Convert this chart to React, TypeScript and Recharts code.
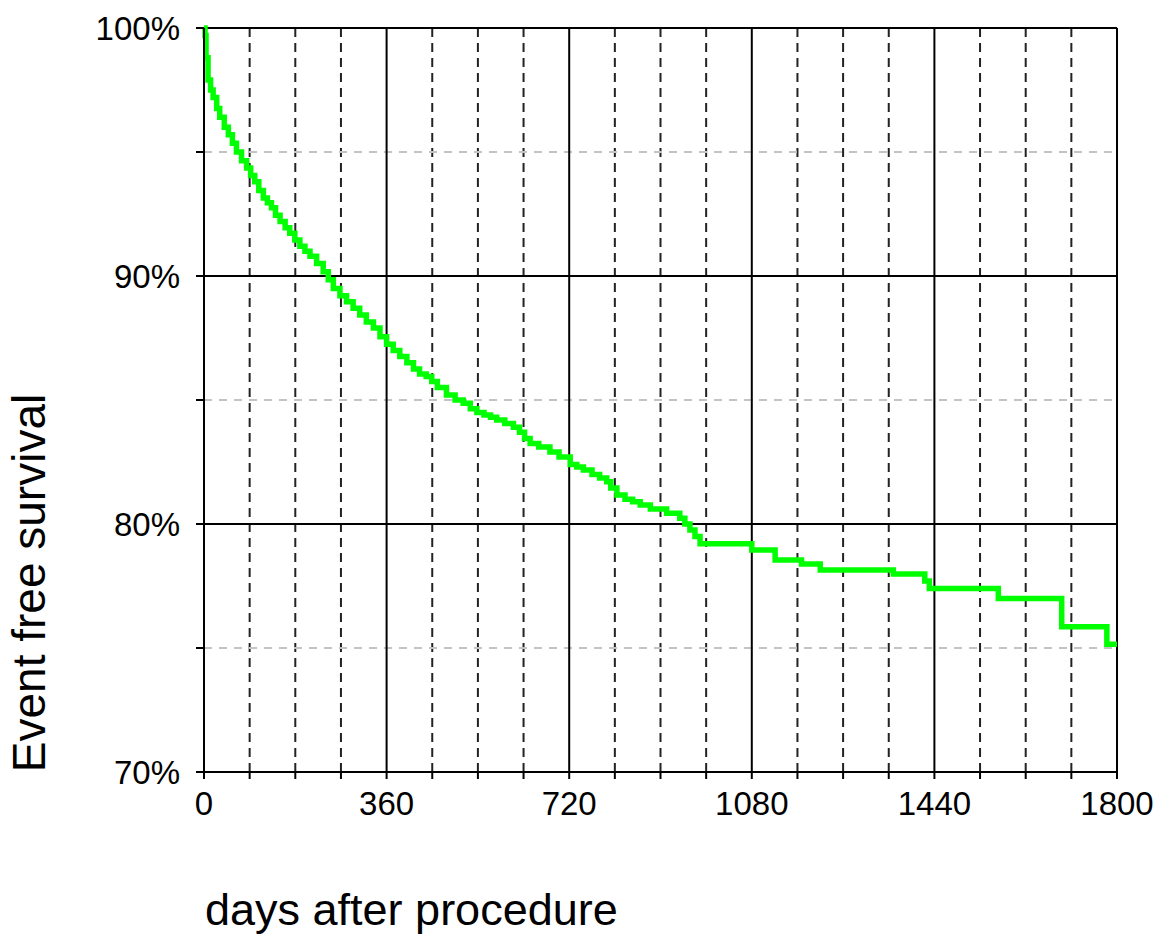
import { LineChart, Line, XAxis, YAxis, ReferenceLine } from "recharts";

// Kaplan-Meier style estimate
const days = [
  0, 2, 4, 8, 13, 18, 25, 31, 40, 48, 56, 64, 74, 84, 92, 100, 108, 117, 125,
  133, 141, 150, 160, 169, 179, 189, 199, 209, 222, 235, 245, 255, 268, 281,
  294, 307, 320, 334, 347, 360, 373, 386, 400, 413, 425, 438, 449, 460, 478,
  495, 511, 525, 538, 552, 565, 577, 593, 610, 622, 632, 643, 660, 682, 700,
  722, 735, 748, 765, 780, 794, 802, 814, 830, 845, 860, 880, 912, 938, 948,
  958, 968, 978, 1080, 1126, 1178, 1215, 1359, 1421, 1430, 1566, 1691, 1780,
  1800,
];
const survival = [
  100, 99.7, 98.8, 97.9, 97.5, 97.2, 96.75, 96.4, 96.0, 95.7, 95.35, 95.0,
  94.65, 94.35, 94.05, 93.8, 93.45, 93.15, 92.95, 92.75, 92.45, 92.2, 91.95,
  91.72, 91.45, 91.2, 91.0, 90.8, 90.5, 90.17, 89.85, 89.5, 89.2, 88.96, 88.7,
  88.43, 88.15, 87.9, 87.55, 87.25, 87.0, 86.75, 86.5, 86.25, 86.05, 85.95,
  85.75, 85.5, 85.2, 85.0, 84.87, 84.65, 84.5, 84.4, 84.3, 84.19, 84.05, 83.9,
  83.7, 83.45, 83.25, 83.1, 82.9, 82.7, 82.4, 82.3, 82.18, 82.0, 81.85, 81.7,
  81.45, 81.17, 81.0, 80.9, 80.77, 80.6, 80.43, 80.23, 80.0, 79.76, 79.5, 79.2,
  78.95, 78.55, 78.39, 78.15, 77.98, 77.7, 77.4, 77.0, 75.86, 75.15, 75.15,
];

const xTicks = [0, 90, 180, 270, 360, 450, 540, 630, 720, 810, 900, 990, 1080, 1170, 1260, 1350, 1440, 1530, 1620, 1710, 1800];
const xMajor = [360, 720, 1080, 1440, 1800];
const yTicks = [70, 75, 80, 85, 90, 95, 100];
const yMajor = [80, 90, 100];
const yMinor = [75, 85, 95];

const data = days.map((d, i) => ({ day: d, surv: survival[i] }));

const font = "'Liberation Sans', Arial, sans-serif";

const XTitle = ({ viewBox }: any) => (
  <text x={viewBox.x + 1} y={viewBox.y + 153} fontSize={45} fontFamily={font} fill="#000">
    days after procedure
  </text>
);

const YTitle = ({ viewBox }: any) => {
  const cx = 45;
  const cy = viewBox.y + viewBox.height - 189;
  return (
    <text x={cx} y={cy} transform={`rotate(-90, ${cx}, ${cy})`} textAnchor="middle" fontSize={46} fontFamily={font} fill="#000">
      Event free survival
    </text>
  );
};

export default function App() {
  return (
    <div style={{ position: "absolute", left: 0, top: 0, background: "#fff" }}>
      <LineChart width={1159} height={938} data={data} margin={{ top: 28, right: 42, left: 0, bottom: 0 }}>
        {xTicks.filter((t) => !xMajor.includes(t) && t !== 0).map((t) => (
          <ReferenceLine key={"xd" + t} x={t} stroke="#222" strokeWidth={2} strokeDasharray="9 6" />
        ))}
        {yMinor.map((t) => (
          <ReferenceLine key={"yd" + t} y={t} stroke="#c4c4c4" strokeWidth={2} strokeDasharray="8 7" />
        ))}
        {xMajor.map((t) => (
          <ReferenceLine key={"xs" + t} x={t} stroke="#000" strokeWidth={2} />
        ))}
        {yMajor.map((t) => (
          <ReferenceLine key={"ys" + t} y={t} stroke="#000" strokeWidth={2} />
        ))}
        <XAxis
          dataKey="day"
          type="number"
          domain={[0, 1800]}
          ticks={xTicks}
          interval={0}
          height={166}
          axisLine={{ stroke: "#000", strokeWidth: 2 }}
          tickLine={{ stroke: "#000", strokeWidth: 2 }}
          tickSize={7}
          tickMargin={13}
          tickFormatter={(v: number) => (v % 360 === 0 ? String(v) : "")}
          tick={{ fontSize: 33, fontFamily: font, fill: "#000" }}
          label={<XTitle />}
        />
        <YAxis
          type="number"
          domain={[70, 100]}
          ticks={yTicks}
          interval={0}
          width={204}
          axisLine={{ stroke: "#000", strokeWidth: 2 }}
          tickLine={{ stroke: "#000", strokeWidth: 2 }}
          tickSize={8}
          tickMargin={16}
          tickFormatter={(v: number) => (v % 10 === 0 ? v + "%" : "")}
          tick={{ fontSize: 33, fontFamily: font, fill: "#000" }}
          label={<YTitle />}
        />
        <Line
          dataKey="surv"
          type="stepAfter"
          stroke="#00ff00"
          strokeWidth={5.5}
          dot={false}
          activeDot={false}
          isAnimationActive={false}
        />
      </LineChart>
    </div>
  );
}
